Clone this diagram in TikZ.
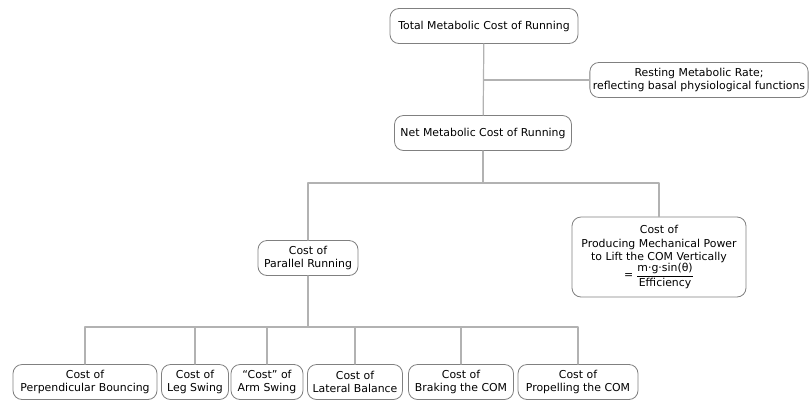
\documentclass[tikz,border=0pt]{standalone}
\usepackage{fontspec}
\setmainfont{DejaVu Sans}
\begin{document}
\begin{tikzpicture}[x=1pt, y=-1pt, line join=round, line cap=round,
    font=\fontsize{10.9}{13.6}\selectfont,
    box/.style={draw=black!50, line width=0.8pt, fill=white, rounded corners=9pt, align=center, inner xsep=3pt, inner ysep=2pt, minimum height=35pt},
    link/.style={draw=black!30, line width=1.2pt}]
    \useasboundingbox (0,0) rectangle (812,400);
            \node[box, minimum width=188pt] (total) at (484,26) {Total Metabolic Cost of Running};
            \node[box, minimum width=216pt] (rest) at (699,80) {Resting Metabolic Rate;\\reflecting basal physiological functions};
            \node[box, minimum width=177pt] (net) at (483,133) {Net Metabolic Cost of Running};
            \node[box, minimum width=100pt] (par) at (308,258) {Cost of\\Parallel Running};
            \node[box, minimum width=174pt, minimum height=80pt] (lift) at (659,257) {Cost of\\Producing Mechanical Power\\to Lift the COM Vertically\\[-1pt]
                =\;$\displaystyle\frac{\hbox{m·g·sin(θ)}}{\hbox{Efficiency}}$};
            \node[box, minimum width=144pt] (bounce) at (85,382) {Cost of\\Perpendicular Bouncing};
            \node[box, minimum width=67pt] (leg) at (195,382) {Cost of\\Leg Swing};
            \node[box, minimum width=72pt] (arm) at (267,382) {``Cost'' of\\Arm Swing};
            \node[box, minimum width=95pt] (lat) at (355,382) {Cost of\\Lateral Balance};
            \node[box, minimum width=105pt] (brake) at (461,382) {Cost of\\Braking the COM};
            \node[box, minimum width=120pt] (prop) at (578,382) {Cost of\\Propelling the COM};
            \coordinate (fork1) at (483,183);
            \coordinate (fork2) at (308,327);
            \draw[link] (total) -- (net);
            \draw[link] (rest) -- (rest -| total);
            \draw[link] (net) -- (fork1);
            \draw[link] (fork1) -| (par);
            \draw[link] (fork1) -| (lift);
            \draw[link] (par) -- (fork2);
            \foreach \leaf in {bounce,leg,arm,lat,brake,prop}
                \draw[link] (fork2) -| (\leaf);
\end{tikzpicture}
\end{document}
